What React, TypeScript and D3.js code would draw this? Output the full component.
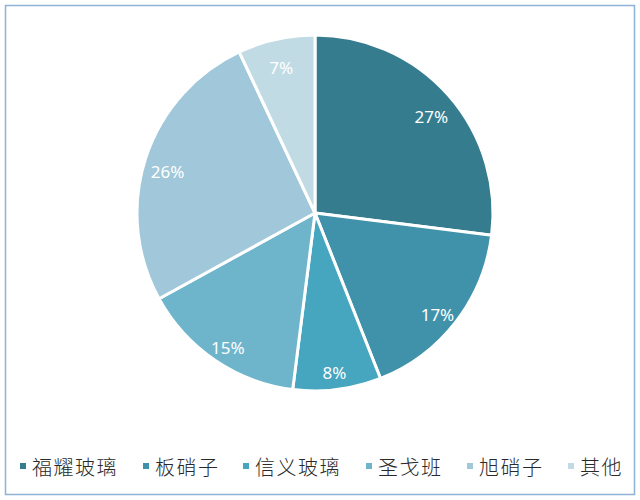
import { useEffect } from 'react';
import * as d3 from 'd3';

const companies = ['福耀玻璃', '板硝子', '信义玻璃', '圣戈班', '旭硝子', '其他'];
const shares = [27, 17, 8, 15, 26, 7];
const sliceColors = ['#357c8f', '#3f92aa', '#46a5bf', '#6eb5cc', '#a0c8da', '#c1dbe5'];

const WIDTH = 640;
const HEIGHT = 500;

interface Slice {
  name: string;
  value: number;
  color: string;
}

export default function App() {
  useEffect(() => {
    document.body.style.margin = '0';
  }, []);

  const data: Slice[] = companies.map((name, i) => ({
    name,
    value: shares[i],
    color: sliceColors[i],
  }));

  const cx = 315;
  const cy = 213;
  const radius = 178;

  const pie = d3.pie<Slice>().value(d => d.value).sort(null);
  const arcs = pie(data);

  const arc = d3.arc<d3.PieArcDatum<Slice>>().innerRadius(0).outerRadius(radius);
  const labelArc = d3.arc<d3.PieArcDatum<Slice>>().innerRadius(155).outerRadius(155);

  // legend item positions (marker left edge)
  const legendX = [20, 143, 243, 366, 467, 568];
  const legendY = 466;

  return (
    <svg width={WIDTH} height={HEIGHT} style={{ display: 'block' }}>
      <rect x={0} y={0} width={WIDTH} height={HEIGHT} fill="#ffffff" />
      <rect x={5.5} y={5.5} width={629} height={489} fill="none" stroke="#8fb3d6" strokeWidth={1.5} />
      <g transform={`translate(${cx},${cy})`}>
        {arcs.map((d, i) => (
          <path key={i} d={arc(d) || ''} fill={d.data.color} stroke="#ffffff" strokeWidth={3} strokeLinejoin="round" />
        ))}
        {arcs.map((d, i) => {
          const [x, y] = labelArc.centroid(d);
          return (
            <text
              key={i}
              x={x}
              y={y + 6}
              textAnchor="middle"
              dominantBaseline="central"
              fill="#ffffff"
              fontFamily="'Noto Sans', 'DejaVu Sans', sans-serif"
              fontSize={17}
            >
              {`${d.data.value}%`}
            </text>
          );
        })}
      </g>
      <g>
        {data.map((d, i) => (
          <g key={i} transform={`translate(${legendX[i]},${legendY})`}>
            <rect x={0} y={-3} width={6} height={6} fill={d.color} />
            <text
              x={12}
              y={0}
              dominantBaseline="central"
              fill="#2a2a2a"
              fontFamily="'Noto Sans CJK SC', sans-serif"
              fontWeight={300}
              fontSize={20}
              letterSpacing={1.5}
            >
              {d.name}
            </text>
          </g>
        ))}
      </g>
    </svg>
  );
}
